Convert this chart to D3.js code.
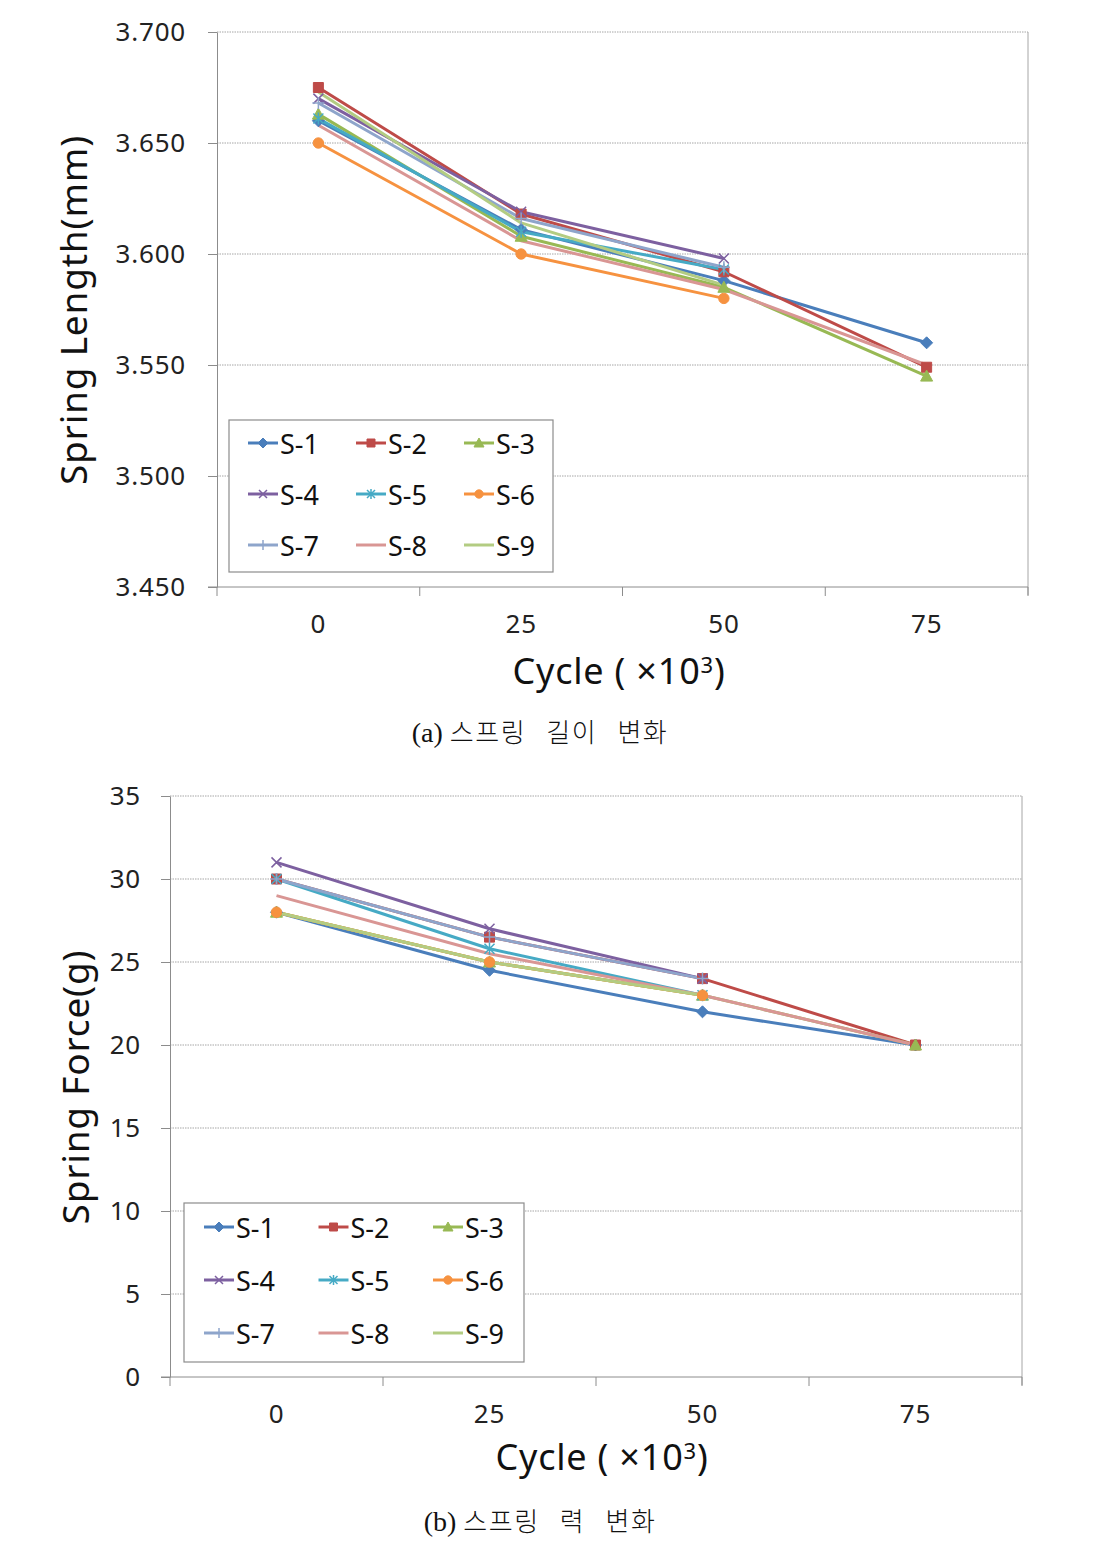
<!DOCTYPE html>
<html><head><meta charset="utf-8">
<script src="https://cdn.jsdelivr.net/npm/d3@7"></script>
<style>
html,body{margin:0;padding:0;background:#fff;}
svg{display:block;}
</style></head>
<body>
<script>
// ---------- data ----------
const categories = ["0", "25", "50", "75"];
const seriesNames = ["S-1","S-2","S-3","S-4","S-5","S-6","S-7","S-8","S-9"];
const seriesColors = ["#4A7EBB","#BE4B48","#98B954","#7D60A0","#46AAC5","#F69240","#8EA5CB","#D99694","#B3CC82"];
const seriesMarkers = ["diamond","square","triangle","x","asterisk","circle","plus","none","none"];

// (a) Spring length (mm); null = no point
const lengthS1 = [3.660, 3.611, 3.588, 3.560];
const lengthS2 = [3.675, 3.618, 3.592, 3.549];
const lengthS3 = [3.663, 3.608, 3.585, 3.545];
const lengthS4 = [3.670, 3.619, 3.598, null];
const lengthS5 = [3.661, 3.610, 3.593, null];
const lengthS6 = [3.650, 3.600, 3.580, null];
const lengthS7 = [3.668, 3.616, 3.594, null];
const lengthS8 = [3.658, 3.606, 3.584, 3.550];
const lengthS9 = [3.673, 3.614, 3.586, null];
const lengthTicks = [3.450, 3.500, 3.550, 3.600, 3.650, 3.700];

// (b) Spring force (g)
const forceS1 = [28, 24.5, 22, 20];
const forceS2 = [30, 26.5, 24, 20];
const forceS3 = [28, 25, 23, 20];
const forceS4 = [31, 27, 24, null];
const forceS5 = [30, 25.8, 23, null];
const forceS6 = [28, 25, 23, null];
const forceS7 = [30, 26.5, 24, null];
const forceS8 = [29, 25.5, 23, 20];
const forceS9 = [28, 25, 23, null];
const forceTicks = [0, 5, 10, 15, 20, 25, 30, 35];

const lengthSeries = [lengthS1,lengthS2,lengthS3,lengthS4,lengthS5,lengthS6,lengthS7,lengthS8,lengthS9];
const forceSeries = [forceS1,forceS2,forceS3,forceS4,forceS5,forceS6,forceS7,forceS8,forceS9];

// ---------- drawing ----------
const svg = d3.select("body").append("svg").attr("width",1104).attr("height",1547);
const FONT = "'Noto Sans','Open Sans',sans-serif";

function markerPath(type, s) {
  const h = s/2;
  switch(type){
    case "diamond": return `M0,${-h-1}L${h+1},0L0,${h+1}L${-h-1},0Z`;
    case "square": return `M${-h},${-h}H${h}V${h}H${-h}Z`;
    case "triangle": return `M0,${-h-1}L${h+1},${h}L${-h-1},${h}Z`;
    case "x": return `M${-h},${-h}L${h},${h}M${-h},${h}L${h},${-h}`;
    case "asterisk": return `M${-h},${-h}L${h},${h}M${-h},${h}L${h},${-h}M0,${-h-1}V${h+1}`;
    case "plus": return `M${-h-1},0H${h+1}M0,${-h-1}V${h+1}`;
    case "circle": return d3.symbol(d3.symbolCircle, s*s*0.85)();
    default: return "";
  }
}
function isStroke(t){ return t==="x"||t==="asterisk"||t==="plus"; }

function drawChart(cfg) {
  const g = svg.append("g");
  const x = d3.scaleBand().domain(categories).range([cfg.x0, cfg.x1]).padding(0);
  const y = d3.scaleLinear().domain(cfg.domain).range([cfg.y1, cfg.y0]);
  const cx = c => x(c) + x.bandwidth()/2;

  // gridlines
  g.append("g").selectAll("line").data(cfg.ticks.slice(1)).join("line")
    .attr("x1", cfg.x0).attr("x2", cfg.x1)
    .attr("y1", d=>y(d)).attr("y2", d=>y(d))
    .attr("stroke","#a6a6a6").attr("stroke-width",1).attr("stroke-dasharray","1.5,1");
  // right border
  g.append("line").attr("x1",cfg.x1).attr("x2",cfg.x1).attr("y1",cfg.y0).attr("y2",cfg.y1+8)
    .attr("stroke","#a6a6a6");

  // y axis
  const ya = g.append("g").attr("transform",`translate(${cfg.x0},0)`)
    .call(d3.axisLeft(y).tickValues(cfg.ticks).tickFormat(cfg.fmt).tickSize(9).tickSizeOuter(0).tickPadding(cfg.tickPad));
  ya.select(".domain").attr("stroke","#8c8c8c");
  ya.selectAll(".tick line").attr("stroke","#8c8c8c");
  ya.selectAll("text").attr("font-family",FONT).attr("font-size",26).attr("letter-spacing",0.8).attr("fill","#222");

  // x axis
  const xa = g.append("g").attr("transform",`translate(0,${cfg.y1})`)
    .call(d3.axisBottom(x).tickSize(0).tickSizeOuter(0).tickPadding(cfg.xPad));
  xa.select(".domain").remove();
  xa.selectAll("text").attr("font-family",FONT).attr("font-size",26).attr("letter-spacing",0.8).attr("fill","#222");
  g.append("line").attr("x1",cfg.x0-9).attr("x2",cfg.x1).attr("y1",cfg.y1).attr("y2",cfg.y1).attr("stroke","#8c8c8c");
  const bounds = categories.map(c=>x(c)).concat([cfg.x1]);
  g.append("g").selectAll("line").data(bounds).join("line")
    .attr("x1",d=>d).attr("x2",d=>d).attr("y1",cfg.y1).attr("y2",cfg.y1+9).attr("stroke","#8c8c8c");

  // series lines
  const line = d3.line().defined(d=>d.v!==null).x(d=>cx(d.c)).y(d=>y(d.v));
  cfg.series.forEach((vals,i)=>{
    const pts = vals.map((v,j)=>({c:categories[j], v}));
    g.append("path").datum(pts).attr("d",line).attr("fill","none")
      .attr("stroke",seriesColors[i]).attr("stroke-width",3).attr("stroke-linejoin","round");
  });
  cfg.series.forEach((vals,i)=>{
    const t = seriesMarkers[i];
    if (t==="none") return;
    const pts = vals.map((v,j)=>({c:categories[j], v})).filter(d=>d.v!==null);
    g.append("g").selectAll("path").data(pts).join("path")
      .attr("transform",d=>`translate(${cx(d.c)},${y(d.v)})`)
      .attr("d", markerPath(t, 10))
      .attr("fill", isStroke(t) ? "none" : seriesColors[i])
      .attr("stroke", seriesColors[i]).attr("stroke-width", isStroke(t)?1.5:1);
  });

  // axis titles
  g.append("text").attr("transform",`translate(${cfg.ylabX},${cfg.ylabY}) rotate(-90)`)
    .attr("text-anchor","middle").attr("dominant-baseline","central")
    .attr("font-family",FONT).attr("font-size",37).attr("letter-spacing",0.8).attr("fill","#111").text(cfg.ylabel);
  const xt = g.append("text").attr("x",cfg.xlabX).attr("y",cfg.xlabY).attr("text-anchor","middle")
    .attr("font-family",FONT).attr("font-size",36).attr("letter-spacing",0.8).attr("fill","#111");
  xt.append("tspan").text("Cycle ( ×10");
  xt.append("tspan").attr("font-size",22).attr("dy",-11).text("3");
  xt.append("tspan").attr("dy",11).text(")");

  // legend
  const L = cfg.legend;
  g.append("rect").attr("x",L.x).attr("y",L.y).attr("width",L.w).attr("height",L.h)
    .attr("fill","#fff").attr("stroke","#8c8c8c").attr("stroke-width",1.2);
  seriesNames.forEach((name,i)=>{
    const col = i%3, row = Math.floor(i/3);
    const lx = L.x + L.padX + col*L.colW;
    const ly = L.y + L.padY + row*L.rowH;
    const lg = g.append("g");
    lg.append("line").attr("x1",lx).attr("x2",lx+30).attr("y1",ly).attr("y2",ly)
      .attr("stroke",seriesColors[i]).attr("stroke-width",3);
    const t = seriesMarkers[i];
    if (t!=="none") lg.append("path").attr("transform",`translate(${lx+15},${ly})`)
      .attr("d",markerPath(t,8)).attr("fill",isStroke(t)?"none":seriesColors[i])
      .attr("stroke",seriesColors[i]).attr("stroke-width",isStroke(t)?1.5:1);
    lg.append("text").attr("x",lx+32).attr("y",ly).attr("dominant-baseline","central")
      .attr("font-family",FONT).attr("font-size",27).attr("fill","#111").text(name);
  });

  // caption
  const cap = g.append("text").attr("x",cfg.capX).attr("y",cfg.capY).attr("text-anchor","middle")
    .attr("font-size",26).attr("fill","#111");
  cap.append("tspan").attr("font-family","'Liberation Serif','DejaVu Serif',serif").attr("font-size",28).text(cfg.capA + " ");
  cap.append("tspan").attr("font-family","'Noto Sans CJK KR',sans-serif").attr("font-weight",300)
    .attr("letter-spacing",1.5).attr("word-spacing",13).text(" " + cfg.capB);
}

drawChart({
  x0:217, x1:1028, y0:32, y1:587, domain:[3.45,3.70], ticks:lengthTicks, fmt:d3.format(".3f"),
  tickPad:22, xPad:28, series:lengthSeries,
  ylabel:"Spring Length(mm)", ylabX:72, ylabY:310,
  xlabX:619, xlabY:684,
  legend:{x:229,y:420,w:324,h:152,padX:19,padY:23,colW:108,rowH:51},
  capX:540, capY:742, capA:"(a)", capB:"스프링 길이 변화"
});
drawChart({
  x0:170, x1:1022, y0:796, y1:1377, domain:[0,35], ticks:forceTicks, fmt:d3.format("d"),
  tickPad:20, xPad:28, series:forceSeries,
  ylabel:"Spring Force(g)", ylabX:74, ylabY:1087,
  xlabX:602, xlabY:1470,
  legend:{x:184,y:1203,w:340,h:159,padX:20,padY:24,colW:114.5,rowH:53},
  capX:540, capY:1531, capA:"(b)", capB:"스프링 력 변화"
});
</script>
</body></html>
